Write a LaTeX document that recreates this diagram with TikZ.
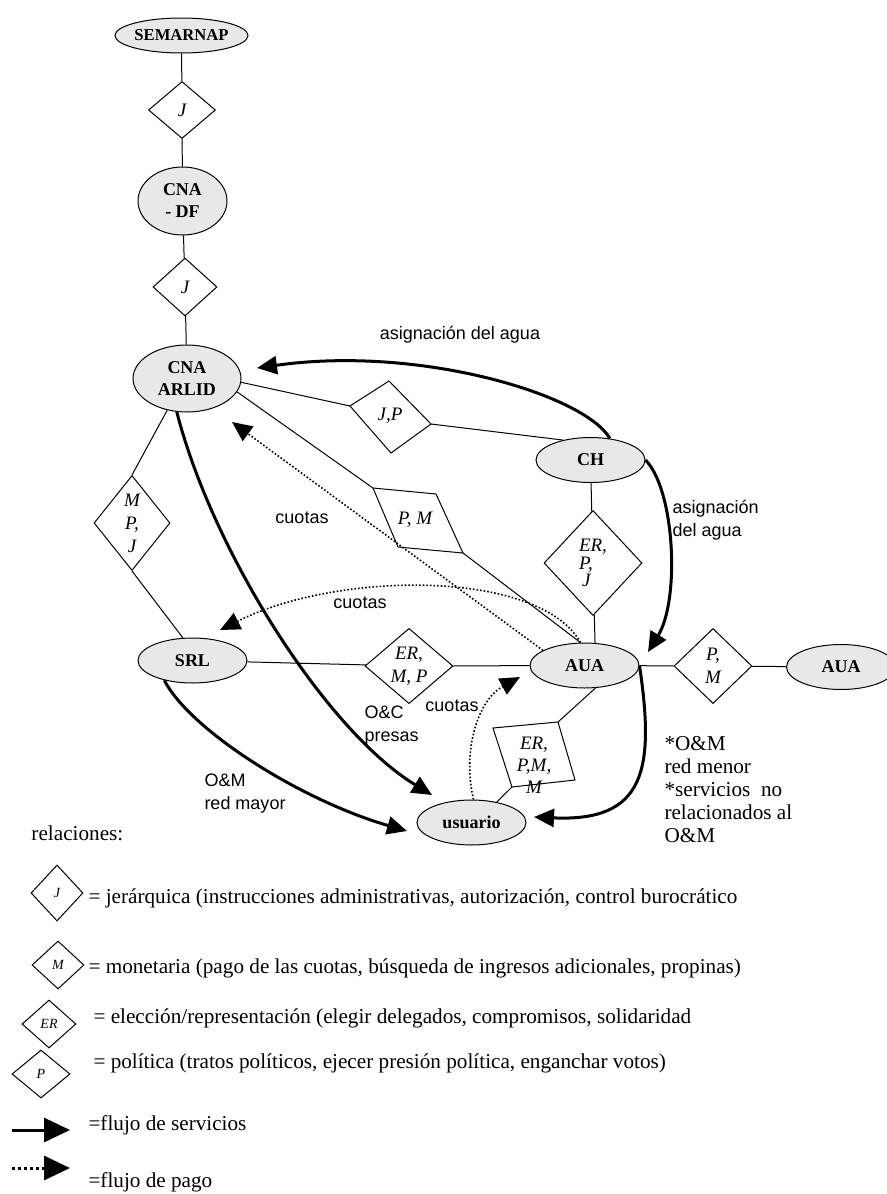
\documentclass[tikz,border=0pt]{standalone}
\usepackage{fontspec}
\setmainfont{Liberation Serif}
\setsansfont{Liberation Sans}
\usetikzlibrary{shapes.geometric, arrows.meta}
\definecolor{entfill}{gray}{0.91}

\begin{document}
\begin{tikzpicture}[x=0.5pt, y=-0.5pt, line width=0.5pt,
    ent/.style={ellipse, draw, fill=entfill, inner sep=0pt,
                minimum width=54.5pt, minimum height=22.5pt,
                font=\fontsize{9}{11}\selectfont\bfseries, align=center},
    rel/.style={diamond, draw, inner sep=0pt,
                font=\fontsize{9.5}{11.5}\selectfont\itshape, align=center},
    leg/.style={rel, font=\fontsize{7}{8}\selectfont\itshape},
    quad/.style={inner sep=0pt, align=center, font=\fontsize{9.5}{11}\selectfont\itshape},
    lbl/.style={inner sep=0pt, align=left, font=\fontsize{9}{11.5}\selectfont\sffamily},
    txt/.style={inner sep=0pt, anchor=west, align=left, font=\fontsize{10.6}{11.5}\selectfont},
    serv/.style={-{Triangle[length=10pt,width=9pt]}, line width=1.5pt},
    pago/.style={-{Triangle[length=10pt,width=9pt]}, densely dotted, line width=0.8pt}
  ]
  \useasboundingbox (0,0) rectangle (887,1194);

  \node[ent, minimum width=65pt, minimum height=17.5pt,
        font=\fontsize{8.3}{10}\selectfont\bfseries] (sem) at (181.5,35.5) {SEMARNAP};
  \node[rel, minimum width=33.5pt, minimum height=28.5pt] (j1) at (182,110) {J};
  \node[ent, minimum width=44.5pt, minimum height=34pt] (df) at (182.5,201) {CNA\\- DF};
  \node[rel, minimum width=32pt, minimum height=29pt] (j2) at (185,287) {J};
  \node[ent, minimum width=54pt, minimum height=33.5pt] (arlid) at (187,378.5) {CNA\\ARLID};
  \node[ent] (ch) at (590.5,460) {CH};
  \node[ent] (srl) at (192.5,660.5) {SRL};
  \node[ent] (aua) at (584.5,665.5) {AUA};
  \node[ent] (aua2) at (841,667) {AUA};
  \node[ent] (usu) at (471.5,822.5) {usuario};

  \node[rel, minimum width=38pt, minimum height=47.5pt] (mpj) at (132,523) {M\\P,\\J};
  \node[rel, minimum width=49pt, minimum height=52.5pt, align=left,
        font=\fontsize{9.5}{7.5}\selectfont\itshape] (erpj) at (593,563) {ER,\\P,\\\,J};
  \node[rel, minimum width=44pt, minimum height=37pt] (ermp) at (409,666) {ER,\\M, P};
  \node[rel, minimum width=39pt, minimum height=37.5pt] (pmr) at (713,666) {P,\\M};

  \coordinate (jp1) at (350,406); \coordinate (jp2) at (389,381);
  \coordinate (jp3) at (431,424); \coordinate (jp4) at (391,453);
  \draw (jp1) -- (jp2) -- (jp3) -- (jp4) -- cycle;
  \node[quad] (jp) at (390,416) {J,P};

  \coordinate (pm1) at (373,488); \coordinate (pm2) at (436,494);
  \coordinate (pm3) at (463,553); \coordinate (pm4) at (398,547);
  \draw (pm1) -- (pm2) -- (pm3) -- (pm4) -- cycle;
  \node[quad] (pm) at (415,520) {P, M};

  \coordinate (epm1) at (493,728); \coordinate (epm2) at (558,722);
  \coordinate (epm3) at (575,780); \coordinate (epm4) at (512,787);
  \draw (epm1) -- (epm2) -- (epm3) -- (epm4) -- cycle;
  \node[quad] (epm) at (534,765) {ER,\\P,M,\\M};

  \draw (sem) -- (j1) -- (df) -- (j2) -- (arlid);
  \draw (arlid.-4) -- (jp1);
  \draw (jp3) -- (ch.144);
  \draw (arlid.-15) -- (pm1);
  \draw (pm3) -- (aua.100);
  \draw (arlid.-122) -- (mpj.north);
  \draw (mpj.south) -- (srl.113);
  \draw (ch) -- (erpj) -- (aua.65);
  \draw (srl) -- (ermp) -- (aua);
  \draw (aua) -- (pmr) -- (aua2);
  \draw (aua.-64) -- (epm2);
  \draw (epm4) -- (usu.39);

  \coordinate (toarlid) at (257,368);
  \coordinate (toaua) at (648,652);
  \coordinate (tousu1) at (432,795);
  \coordinate (tousu2) at (407,831);
  \coordinate (tousu3) at (534,817);
  \draw[serv] (ch.48) .. controls (585,395) and (420,345) .. (toarlid);
  \draw[serv] (ch.east) .. controls (675,490) and (680,600) .. (toaua);
  \draw[serv] (arlid.-107) .. controls (212,550) and (325,730) .. (tousu1);
  \draw[serv] (srl.-145) .. controls (190,730) and (300,800) .. (tousu2);
  \draw[serv] (aua.east) .. controls (655,770) and (645,822) .. (tousu3);

  \coordinate (payarlid) at (232,422);
  \coordinate (paysrl) at (220,630);
  \coordinate (payaua) at (520,677);
  \draw[pago] (aua.160) -- (payarlid);
  \draw[pago] (aua.100) .. controls (540,570) and (340,570) .. (paysrl);
  \draw[pago] (usu.85) .. controls (462,750) and (478,700) .. (payaua);

  \node[lbl] (asig1) at (460,335) {asignación del agua};
  \node[lbl, anchor=west] (asig2) at (672,520) {asignación\\del agua};
  \node[lbl] (cuo1) at (302,518) {cuotas};
  \node[lbl] (cuo2) at (360,603) {cuotas};
  \node[lbl] (cuo3) at (452,706) {cuotas};
  \node[lbl, anchor=west] (oc) at (364,726) {O\&C\\presas};
  \node[lbl, anchor=west] (om) at (204,794) {O\&M\\red mayor};
  \node[txt] (menor) at (664,790) {*O\&M\\red menor\\*servicios~~no\\relacionados al\\O\&M};

  \node[txt] (rels) at (31,833) {relaciones:};
  \node[leg, minimum width=26pt, minimum height=28pt] (lj) at (57,893) {J};
  \node[txt] (tj) at (88,898) {= jerárquica (instrucciones administrativas, autorización, control burocrático};
  \node[leg, minimum width=26pt, minimum height=24pt] (lm) at (58,965) {M};
  \node[txt] (tm) at (88,968) {= monetaria (pago de las cuotas, búsqueda de ingresos adicionales, propinas)};
  \node[leg, minimum width=27pt, minimum height=24pt] (ler) at (49,1024) {ER};
  \node[txt] (ter) at (93,1018) {= elección/representación (elegir delegados, compromisos, solidaridad};
  \node[leg, minimum width=29pt, minimum height=24pt] (lp) at (41,1074) {P};
  \node[txt] (tp) at (93,1063) {= política (tratos políticos, ejecer presión política, enganchar votos)};

  \coordinate (s1) at (12,1130); \coordinate (s2) at (70,1130);
  \coordinate (d1) at (12,1168); \coordinate (d2) at (70,1168);
  \draw[line width=1.5pt, -{Triangle[length=13pt,width=12pt]}] (s1) -- (s2);
  \draw[line width=1.5pt, dash pattern=on 1.5pt off 1.5pt,
        -{Triangle[length=13pt,width=12pt]}] (d1) -- (d2);
  \node[txt] (ts) at (88,1125) {=flujo de servicios};
  \node[txt] (tpago) at (88,1182) {=flujo de pago};
\end{tikzpicture}
\end{document}
